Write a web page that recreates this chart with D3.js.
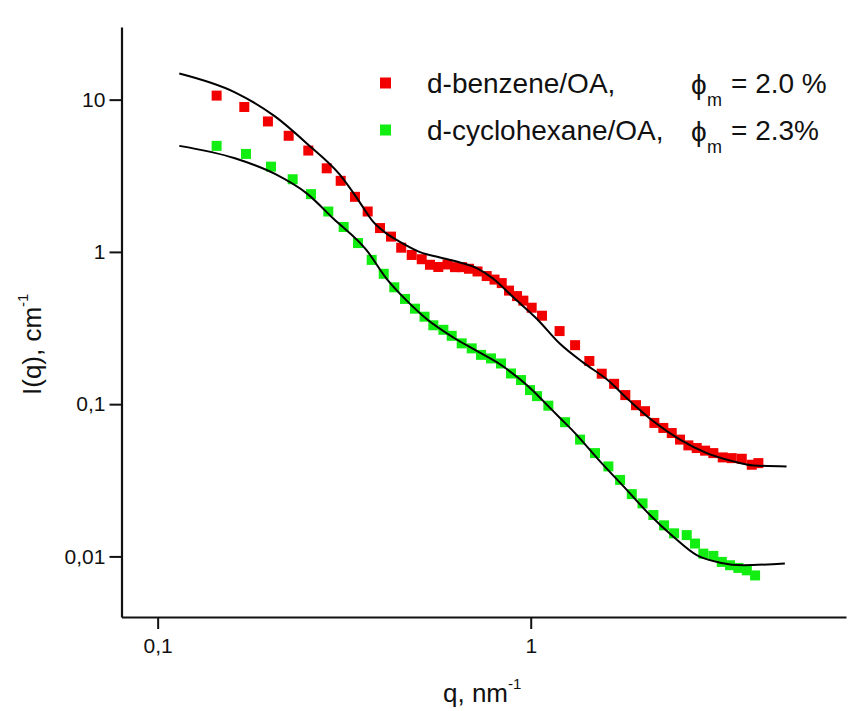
<!DOCTYPE html>
<html>
<head>
<meta charset="utf-8">
<script src="https://cdn.jsdelivr.net/npm/d3@7"></script>
<style>
  body { margin: 0; background: #fff; }
  svg text { font-family: "Liberation Sans", Arial, sans-serif; fill: #111; }
</style>
</head>
<body>
<svg id="chart" width="848" height="711"></svg>
<script>
// d-benzene/OA data
var qRed = [0.1439, 0.1707, 0.1975, 0.2245, 0.2534, 0.2839, 0.3095, 0.338, 0.3656, 0.3945, 0.4222, 0.4496, 0.4797, 0.5103, 0.537, 0.5653, 0.5984, 0.6266, 0.6544, 0.6833, 0.7201, 0.7621, 0.7998, 0.8362, 0.8747, 0.919, 0.9555, 1.006, 1.072, 1.195, 1.315, 1.436, 1.55, 1.673, 1.793, 1.915, 2.025, 2.145, 2.267, 2.388, 2.513, 2.646, 2.786, 2.934, 3.087, 3.271, 3.458, 3.679, 3.913, 4.076];
var iRed = [10.63, 8.95, 7.19, 5.79, 4.63, 3.54, 2.93, 2.30, 1.842, 1.434, 1.26, 1.066, 0.955, 0.895, 0.823, 0.796, 0.827, 0.794, 0.794, 0.775, 0.744, 0.694, 0.658, 0.624, 0.557, 0.5125, 0.4785, 0.43, 0.381, 0.302, 0.244, 0.192, 0.1585, 0.136, 0.1147, 0.0985, 0.0899, 0.0753, 0.0698, 0.0646, 0.0585, 0.0536, 0.0515, 0.0495, 0.0477, 0.0447, 0.0442, 0.0438, 0.040, 0.041];

// d-cyclohexane/OA data
var qGreen = [0.1439, 0.1725, 0.2013, 0.2301, 0.2576, 0.2867, 0.3152, 0.3444, 0.3747, 0.4036, 0.4308, 0.4603, 0.4895, 0.5192, 0.5482, 0.5833, 0.614, 0.6531, 0.6948, 0.7359, 0.7826, 0.8324, 0.8855, 0.9419, 0.9956, 1.04, 1.115, 1.236, 1.356, 1.487, 1.615, 1.736, 1.866, 1.994, 2.132, 2.277, 2.423, 2.619, 2.757, 2.902, 3.087, 3.252, 3.422, 3.602, 3.795, 3.994];
var iGreen = [4.97, 4.40, 3.63, 3.00, 2.396, 1.842, 1.458, 1.143, 0.886, 0.718, 0.5855, 0.491, 0.4238, 0.3753, 0.3297, 0.3079, 0.2811, 0.2508, 0.2325, 0.2107, 0.1997, 0.185, 0.159, 0.144, 0.1237, 0.1129, 0.0977, 0.0761, 0.0585, 0.0477, 0.039, 0.0318, 0.02566, 0.0223, 0.0187, 0.016, 0.01418, 0.0138, 0.01215, 0.01043, 0.01008, 0.0092, 0.00875, 0.0084, 0.0081, 0.0075];

// model fits
var fitRedQ = [0.1143, 0.1611, 0.2063, 0.2534, 0.3082, 0.345, 0.3784, 0.4111, 0.4462, 0.505, 0.5712, 0.6463, 0.7165, 0.7937, 0.8982, 1.038, 1.198, 1.384, 1.599, 1.846, 2.132, 2.513, 2.965, 3.493, 3.953, 4.85];
var fitRedI = [14.85, 11.17, 7.76, 5.05, 3.20, 2.19, 1.573, 1.318, 1.164, 0.997, 0.920, 0.852, 0.782, 0.666, 0.503, 0.364, 0.249, 0.1873, 0.1456, 0.1047, 0.0772, 0.0585, 0.0477, 0.0421, 0.0396, 0.039];
var fitGreenQ = [0.1143, 0.1611, 0.2063, 0.2509, 0.2957, 0.3634, 0.4111, 0.4652, 0.5262, 0.6202, 0.7165, 0.8273, 0.9361, 1.016, 1.081, 1.198, 1.301, 1.534, 1.809, 2.088, 2.412, 2.786, 3.217, 3.715, 4.8];
var fitGreenI = [4.97, 4.12, 3.25, 2.422, 1.656, 1.023, 0.6655, 0.4785, 0.3623, 0.274, 0.2238, 0.1828, 0.1456, 0.1219, 0.1047, 0.0812, 0.0663, 0.0421, 0.02735, 0.0187, 0.01345, 0.01018, 0.0091, 0.00875, 0.009];

// ticks
var xMajor = [0.1, 1];
var xMajorLabels = ["0,1", "1"];
var xMinor = [0.08, 0.09, 0.2, 0.3, 0.4, 0.5, 0.6, 0.7, 0.8, 0.9, 2, 3, 4, 5, 6, 7];
var yMajor = [0.01, 0.1, 1, 10];
var yMajorLabels = ["0,01", "0,1", "1", "10"];
var yMinor = [0.004, 0.005, 0.006, 0.007, 0.008, 0.009, 0.02, 0.03, 0.04, 0.05, 0.06, 0.07, 0.08, 0.09,
  0.2, 0.3, 0.4, 0.5, 0.6, 0.7, 0.8, 0.9, 2, 3, 4, 5, 6, 7, 8, 9, 20, 30];

var legendNames = ["d-benzene/OA,", "d-cyclohexane/OA,"];
var legendPhi = ["= 2.0 %", "= 2.3%"];
var colors = ["#f20000", "#12ee12"];

var svg = d3.select("#chart");

var x = d3.scaleLog().domain([0.08, 7]).range([121.5, 846]);
var y = d3.scaleLog().domain([0.004, 30]).range([617, 27]);

function zip(qs, is) {
  return qs.map(function (q, i) { return { q: q, v: is[i] }; });
}

// axes
var gx = svg.append("g").attr("transform", "translate(0," + y(0.004) + ")");
gx.call(d3.axisBottom(x).tickValues(xMinor).tickSize(6).tickSizeOuter(0).tickFormat(""));
gx.call(d3.axisBottom(x).tickValues(xMajor).tickSize(12).tickSizeOuter(0)
  .tickFormat(function (d, i) { return xMajorLabels[i]; }));

var gy = svg.append("g").attr("transform", "translate(" + x(0.08) + ",0)");
gy.call(d3.axisLeft(y).tickValues(yMinor).tickSize(6).tickSizeOuter(0).tickFormat(""));
gy.call(d3.axisLeft(y).tickValues(yMajor).tickSize(12).tickSizeOuter(0)
  .tickFormat(function (d, i) { return yMajorLabels[i]; }));

svg.selectAll(".domain").attr("stroke", "#111").attr("stroke-width", 2.2);
svg.selectAll(".tick line").attr("stroke", "#111").attr("stroke-width", 2);
svg.selectAll(".tick text").attr("font-size", 21).attr("fill", "#111")
  .attr("font-family", "Liberation Sans, Arial, sans-serif");
gx.selectAll(".tick text").attr("dy", "1.0em");
gy.selectAll(".tick text").attr("dx", "-0.05em");

// data squares
var sets = [zip(qRed, iRed), zip(qGreen, iGreen)];
sets.forEach(function (set, k) {
  svg.append("g").selectAll("rect")
    .data(set)
    .enter()
    .append("rect")
    .attr("x", function (d) { return x(d.q) - 5; })
    .attr("y", function (d) { return y(d.v) - 5; })
    .attr("width", 10)
    .attr("height", 10)
    .attr("fill", colors[k]);
});

// fit curves on top
var line = d3.line()
  .x(function (d) { return x(d.q); })
  .y(function (d) { return y(d.v); })
  .curve(d3.curveMonotoneX);

[zip(fitRedQ, fitRedI), zip(fitGreenQ, fitGreenI)].forEach(function (fit) {
  svg.append("path")
    .datum(fit)
    .attr("d", line)
    .attr("fill", "none")
    .attr("stroke", "#000")
    .attr("stroke-width", 2);
});

// legend
var legendY = [83, 130];
legendNames.forEach(function (name, i) {
  var ly = legendY[i];
  svg.append("rect")
    .attr("x", 380).attr("y", ly - 5.5)
    .attr("width", 11).attr("height", 11)
    .attr("fill", colors[i]);
  svg.append("text")
    .attr("x", 427).attr("y", ly + 10)
    .attr("font-size", 28)
    .text(name);
  svg.append("text")
    .attr("x", 691).attr("y", ly + 11)
    .attr("font-size", 28)
    .attr("font-family", "DejaVu Sans, sans-serif")
    .text("\u03D5");
  svg.append("text")
    .attr("x", 707).attr("y", ly + 23)
    .attr("font-size", 18)
    .text("m");
  svg.append("text")
    .attr("x", 731).attr("y", ly + 10)
    .attr("font-size", 28)
    .text(legendPhi[i]);
});

// axis titles
var xt = svg.append("text")
  .attr("x", 443).attr("y", 702)
  .attr("font-size", 26);
xt.append("tspan").text("q, nm");
xt.append("tspan").attr("font-size", 15).attr("dy", -13).text("-1");

var yt = svg.append("text")
  .attr("transform", "translate(41,395) rotate(-90)")
  .attr("font-size", 26);
yt.append("tspan").text("I(q), cm");
yt.append("tspan").attr("font-size", 15).attr("dy", -13).text("-1");
</script>
</body>
</html>
